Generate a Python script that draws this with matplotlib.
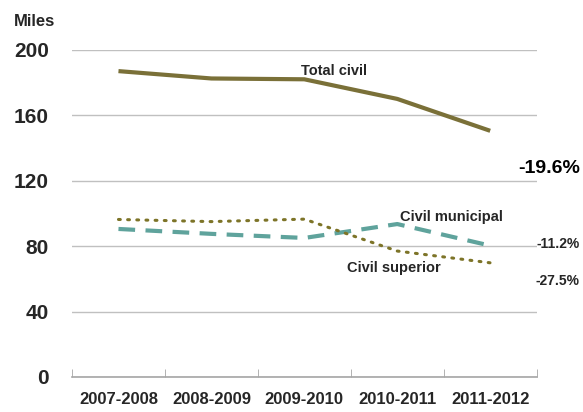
import matplotlib
matplotlib.use("Agg")
import matplotlib.pyplot as plt
from matplotlib.font_manager import fontManager

names = {f.name for f in fontManager.ttflist}
fam = ['Liberation Sans Narrow', 'Liberation Sans', 'DejaVu Sans'] if 'Liberation Sans Narrow' in names else ['Liberation Sans', 'DejaVu Sans']
plt.rcParams['font.family'] = fam

categories = ["2007-2008", "2008-2009", "2009-2010", "2010-2011", "2011-2012"]
total_civil = [187, 182.5, 182, 170, 150.5]
civil_municipal = [90.5, 87.5, 85, 93.5, 80.3]
civil_superior = [96.3, 95, 96.5, 77, 69.8]
yticks = [0, 40, 80, 120, 160, 200]

fig = plt.figure(figsize=(5.83, 4.12), dpi=100)
ax = fig.add_axes([0.1235, 0.085, 0.797, 0.794])
x = list(range(len(categories)))
tc = '#262626'

ax.plot(x, total_civil, color='#7a7038', lw=3, solid_capstyle='butt')
ax.plot(x, civil_municipal, color='#5fa39c', lw=3, ls=(0, (4, 2.5)))
ax.plot(x, civil_superior, color='#7d7428', lw=2.2, ls=(0, (0.6, 2.4)), dash_capstyle='round')

ax.set_xlim(-0.5, 4.5)
ax.set_ylim(0, 200)
ax.set_yticks(yticks)
ax.set_yticklabels([str(v) for v in yticks], fontsize=15, fontweight='bold', color=tc)
ax.set_xticks(x)
ax.set_xticklabels(categories, fontsize=12, fontweight='bold', color=tc)
ax.set_xticks([i - 0.5 for i in range(6)], minor=True)
ax.tick_params(axis='x', which='major', length=0, pad=11)
ax.tick_params(axis='x', which='minor', length=6, direction='in', color='#a6a6a6')
ax.tick_params(axis='y', length=0, pad=16.5)
for lab in ax.get_yticklabels():
    lab.set_horizontalalignment('right')

ax.grid(axis='y', color='#c0c0c0', lw=1)
ax.set_axisbelow(True)
for s in ['top', 'right', 'left']:
    ax.spines[s].set_visible(False)
ax.spines['bottom'].set_color('#a6a6a6')
ax.spines['bottom'].set_linewidth(1.2)

ax.text(2.32, 187, "Total civil", fontsize=10.5, fontweight='bold', color=tc, ha='center', va='center')
ax.text(3.58, 98, "Civil municipal", fontsize=10.5, fontweight='bold', color=tc, ha='center', va='center')
ax.text(2.96, 66.5, "Civil superior", fontsize=10.5, fontweight='bold', color=tc, ha='center', va='center')
fig.text(580/583, 1 - 168/412, "-19.6%", fontsize=14, fontweight='bold', color='#000000', ha='right', va='center')
fig.text(580/583, 1 - 244/412, "-11.2%", fontsize=10, fontweight='bold', color=tc, ha='right', va='center')
fig.text(580/583, 1 - 281/412, "-27.5%", fontsize=10, fontweight='bold', color=tc, ha='right', va='center')
fig.text(14/583, 1 - 22/412, "Miles", fontsize=12, fontweight='bold', color=tc, ha='left', va='center')

fig.savefig("out.png", dpi=100)
